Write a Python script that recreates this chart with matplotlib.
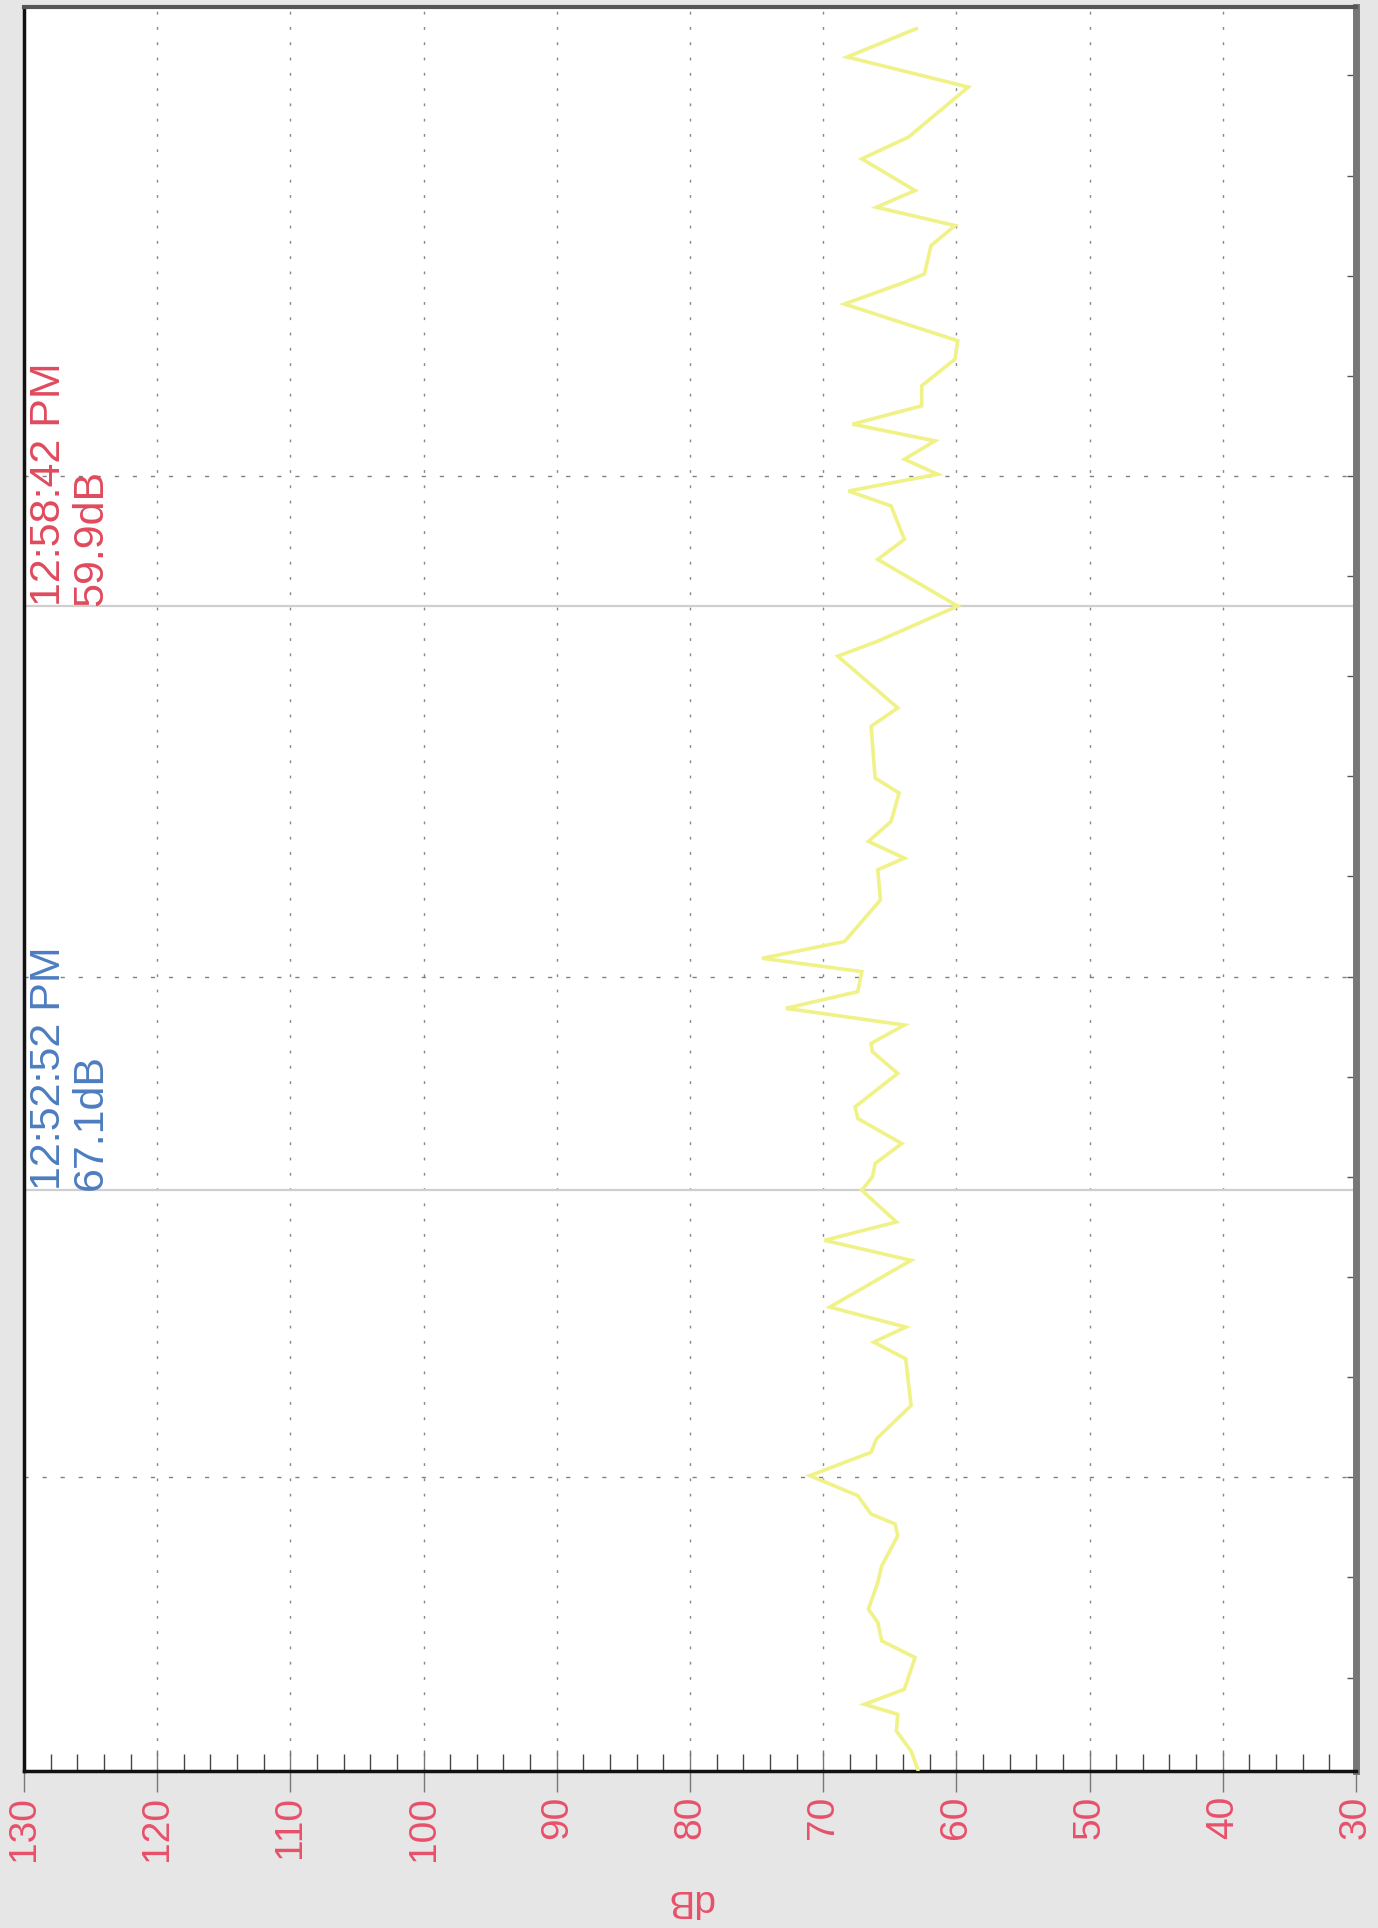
import matplotlib
matplotlib.use("Agg")
import matplotlib.pyplot as plt
import matplotlib.dates as mdates
from matplotlib.ticker import MultipleLocator
from matplotlib.transforms import blended_transform_factory
import pandas as pd

plt.rcParams['font.family'] = ['Liberation Sans', 'DejaVu Sans']

# sound level trace (time of day, dB)
times = [
    "12:47:05", "12:47:16", "12:47:28", "12:47:38", "12:47:44", "12:47:53",
    "12:48:12", "12:48:22", "12:48:33", "12:48:41", "12:48:57", "12:49:07",
    "12:49:25", "12:49:32", "12:49:38", "12:49:49", "12:50:01", "12:50:15",
    "12:50:23", "12:50:43", "12:51:11", "12:51:21", "12:51:30", "12:51:42",
    "12:52:10", "12:52:22", "12:52:33", "12:52:52", "12:53:00", "12:53:08",
    "12:53:20", "12:53:35", "12:53:42", "12:54:02", "12:54:15", "12:54:20",
    "12:54:31", "12:54:41", "12:54:51", "12:55:03", "12:55:11", "12:55:21",
    "12:55:33", "12:55:46", "12:56:04", "12:56:11", "12:56:21", "12:56:33",
    "12:56:50", "12:56:59", "12:57:30", "12:57:41", "12:58:12", "12:58:21",
    "12:58:42", "12:59:10", "12:59:22", "12:59:42", "12:59:51", "13:00:01",
    "13:00:10", "13:00:21", "13:00:31", "13:00:42", "13:00:54", "13:01:10",
    "13:01:21", "13:01:43", "13:01:56", "13:02:01", "13:02:18", "13:02:30",
    "13:02:41", "13:02:51", "13:03:10", "13:03:23", "13:03:53", "13:04:11",
    "13:04:28",
]
levels = [
    62.9, 63.4, 64.5, 64.4, 66.9, 63.9,
    63.1, 65.6, 65.9, 66.6, 65.9, 65.6,
    64.4, 64.6, 66.4, 67.4, 71.0, 66.4,
    66.0, 63.4, 63.8, 66.2, 63.8, 69.5,
    63.4, 69.9, 64.5, 67.1, 66.3, 66.1,
    64.1, 67.4, 67.6, 64.4, 66.3, 66.4,
    63.9, 72.8, 67.4, 67.1, 74.6, 68.4,
    67.1, 65.7, 65.9, 63.9, 66.6, 64.9,
    64.3, 66.1, 66.4, 64.4, 68.9, 65.9,
    59.9, 65.9, 63.9, 64.9, 68.1, 61.4,
    63.9, 61.6, 67.8, 62.6, 62.6, 60.1,
    59.9, 68.4, 63.9, 62.4, 61.9, 60.1,
    66.0, 63.1, 67.1, 63.6, 59.1, 68.2,
    63.0,
]

# cursors shown on the chart
cursor_times = ["12:52:52", "12:58:42"]
cursor_labels = ["12:52:52 PM\n67.1dB", "12:58:42 PM\n59.9dB"]
cursor_colors = ["#4d7dbf", "#e04a5c"]

time_start = "12:47:04"
time_end = "13:04:41"

day = "2000-01-01 "
t = pd.to_datetime([day + s for s in times])
red = "#e8506a"

fig = plt.figure(figsize=(13.78, 19.28), dpi=100, facecolor="#e6e6e6")
ax = fig.add_axes([0.0174, 0.0814, 0.9666, 0.915])
ax.set_facecolor("white")

ax.plot(levels, t, color="#f0f288", lw=2.6, solid_joinstyle="miter", zorder=3)

ax.set_xlim(130, 30)
ax.set_ylim(pd.Timestamp(day + time_start), pd.Timestamp(day + time_end))

# dB axis (bottom)
ax.xaxis.set_major_locator(MultipleLocator(10))
ax.xaxis.set_minor_locator(MultipleLocator(2))
ax.tick_params(axis="x", which="major", direction="inout", length=30, width=1.0,
               color="#777777", labelsize=28, labelcolor=red, labelrotation=90, pad=3)
ax.tick_params(axis="x", which="minor", direction="in", length=12, width=1.0, color="#444444")
ax.set_xlabel("dB", color=red, fontsize=28, rotation=180)
ax.xaxis.set_label_coords(0.5, -0.063)
ax.xaxis.label.set_va("top")

# time axis: minute ticks on the right edge only, no labels
ax.yaxis.set_major_locator(mdates.MinuteLocator(byminute=range(0, 60, 5)))
ax.yaxis.set_minor_locator(mdates.MinuteLocator())
ax.tick_params(axis="y", which="both", left=False, right=True, direction="in",
               length=6.5, width=1.0, color="#555555", labelleft=False)

ax.grid(axis="x", which="major", color="#555555", lw=1.0, linestyle=(0, (2, 9)), alpha=0.7)
ax.grid(axis="y", which="major", color="#555555", lw=1.0, linestyle=(0, (3, 10)), alpha=0.75)

# cursor lines and readouts
trans = blended_transform_factory(ax.transAxes, ax.transData)
for ct, lab, col in zip(cursor_times, cursor_labels, cursor_colors):
    ts = pd.Timestamp(day + ct)
    ax.axhline(ts, color="#cfcfcf", lw=1.6, zorder=2)
    ax.text(0.004, ts, lab, transform=trans, rotation=90, rotation_mode="anchor",
            ha="left", va="top", color=col, fontsize=31, linespacing=1.05,
            multialignment="left", zorder=4)

for side in ["left", "bottom"]:
    ax.spines[side].set_color("#111111")
    ax.spines[side].set_linewidth(2.5)
ax.spines["top"].set_color("#555555")
ax.spines["top"].set_linewidth(3)
ax.spines["right"].set_color("#777777")
ax.spines["right"].set_linewidth(5)

fig.savefig("out.png", dpi=100, facecolor=fig.get_facecolor())
